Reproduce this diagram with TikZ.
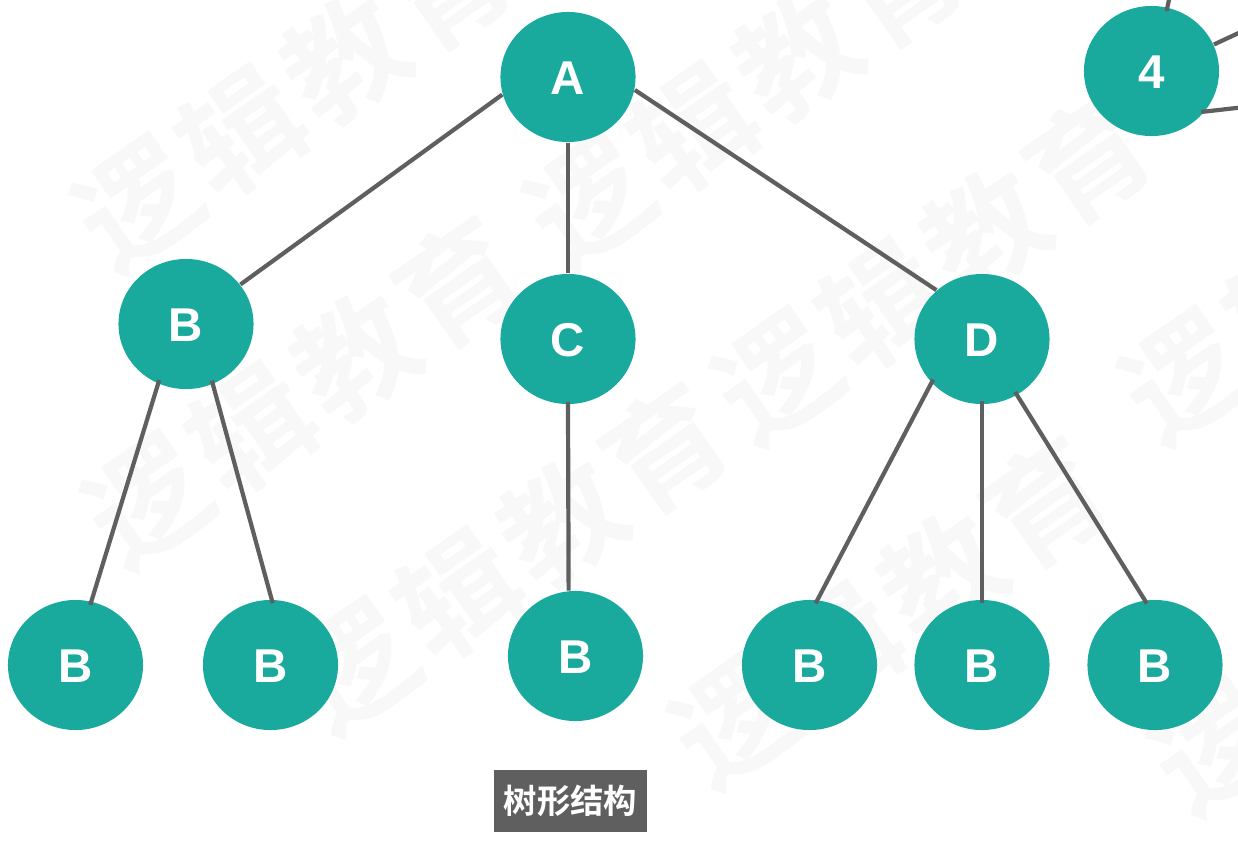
\documentclass[tikz,border=0pt]{standalone}
\usepackage{fontspec}
\usetikzlibrary{shapes.geometric}
\setmainfont{Liberation Sans}
\newfontfamily\cjk[BoldFont={Noto Sans CJK SC Bold}]{Noto Sans CJK SC}
\definecolor{teal}{RGB}{25,169,157}
\definecolor{gray}{RGB}{95,95,95}
\definecolor{mark}{RGB}{248,248,248}

\begin{document}
\begin{tikzpicture}
    [tree/.style={ellipse, fill=teal, text=white, minimum width=1.35cm, minimum height=1.3cm, inner sep=0pt, text height=0.35cm, text depth=0pt, font=\fontsize{13.5}{13.5}\selectfont\bfseries},
    edge/.style={draw=gray, line width=0.042cm},
    inner/.style={edge, shorten <=-0.04cm, shorten >=-0.04cm},
    caption/.style={fill=gray, text=white, minimum width=1.53cm, minimum height=0.62cm, inner sep=0pt, font=\cjk\fontsize{9.5}{9.5}\selectfont\bfseries},
    watermark/.style={text=mark, rotate=35, inner sep=0pt, font=\cjk\fontsize{34}{34}\selectfont\bfseries\addfontfeature{LetterSpace=6}},
    x=0.01cm, y=-0.01cm]
    \useasboundingbox (0,0) rectangle (1238,844);
    \node[watermark] (W1) at (293,95)  {逻辑教育};
    \node[watermark] (W2) at (745,92)  {逻辑教育};
    \node[watermark] (W3) at (303,392)  {逻辑教育};
    \node[watermark] (W4) at (510,558)  {逻辑教育};
    \node[watermark] (W5) at (933,268)  {逻辑教育};
    \node[watermark] (W6) at (890,612)  {逻辑教育};
    \node[watermark] (W7) at (1340,268)  {逻辑教育};
    \node[watermark] (W8) at (1370,638)  {逻辑教育};
    \node[tree] (A) at (568, 77)  {A};
    \node[tree] (B) at (186, 324)  {B};
    \node[tree] (C) at (568, 339)  {C};
    \node[tree] (D) at (982, 339)  {D};
    \node[tree] (B1) at (75.5, 665)  {B};
    \node[tree] (B2) at (270.5, 665)  {B};
    \node[tree] (B3) at (575.5, 656)  {B};
    \node[tree] (B4) at (809.5, 665)  {B};
    \node[tree] (B5) at (982, 665)  {B};
    \node[tree] (B6) at (1155, 665)  {B};
    \node[tree] (N4) at (1151.5, 71)  {4};
    \node[caption] (T) at (570.5, 801)  {树形结构};
    \coordinate (P1) at (1170, -5);
    \coordinate (P2) at (1245, 30);
    \coordinate (P3) at (1245, 107);
    \draw[edge] (A.195) -- (B.36);
    \draw[edge] (A.-90) -- (C.90);
    \draw[edge] (A.-11) -- (D.133);
    \draw[inner] (B.-115) -- (B1.76);
    \draw[inner] (B.-66) -- (B2.89);
    \draw[edge, shorten <=-0.03cm] (C.-90) -- (B3.96.5);
    \draw[inner] (D.221) -- (B4.83);
    \draw[inner] (D.-90) -- (B5.90);
    \draw[inner] (D.-58) -- (B6.99);
    \draw[inner] (N4.76) -- (P1);
    \draw[edge] (N4.23) -- (P2);
    \draw[inner] (N4.-37) -- (P3);
\end{tikzpicture}
\end{document}
